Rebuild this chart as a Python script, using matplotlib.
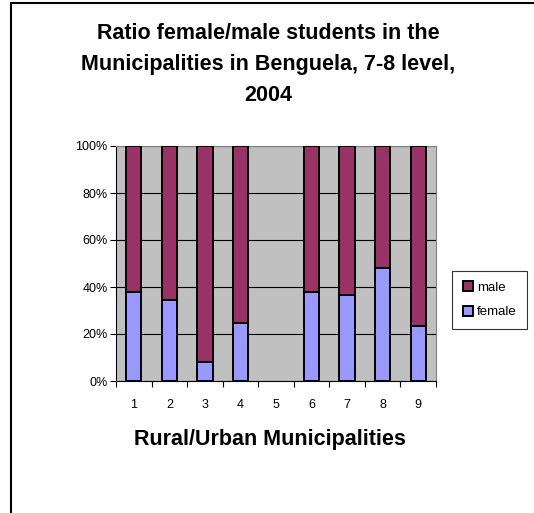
import matplotlib.pyplot as plt
from matplotlib.patches import Rectangle
from matplotlib.ticker import FixedLocator, PercentFormatter

municipalities = [1, 2, 3, 4, 5, 6, 7, 8, 9]
# municipality 5 has no data in the chart
female = [37.8, 34.4, 8.2, 24.5, float('nan'), 37.8, 36.4, 48.2, 23.5]
male = [62.2, 65.6, 91.8, 75.5, float('nan'), 62.2, 63.6, 51.8, 76.5]
title_lines = ['Ratio female/male students in the',
               'Municipalities in Benguela, 7-8 level,',
               '2004']

plt.rcParams['font.family'] = ['Liberation Sans', 'DejaVu Sans']

W, H = 534, 513
fig = plt.figure(figsize=(W / 100, H / 100), dpi=100)
ax = fig.add_axes([116 / W, 1 - 381 / H, 320 / W, 235 / H])
ax.set_facecolor('#c0c0c0')

w = 0.43
b_f = ax.bar(municipalities, female, width=w, color='#9999ff', edgecolor='black', linewidth=1.4, zorder=3)
b_m = ax.bar(municipalities, male, width=w, bottom=female, color='#993366', edgecolor='black', linewidth=1.4, zorder=3)

ax.set_xlim(0.5, 9.5)
ax.set_ylim(0, 100)
ax.set_yticks([0, 20, 40, 60, 80, 100])
ax.yaxis.set_major_formatter(PercentFormatter(decimals=0))
ax.grid(axis='y', color='black', linewidth=0.8, zorder=1)

ax.set_xticks(municipalities)
ax.xaxis.set_minor_locator(FixedLocator([i + 0.5 for i in range(0, 10)]))
ax.tick_params(axis='x', which='major', length=0, pad=13, labelsize=9)
ax.tick_params(axis='x', which='minor', length=4, direction='out', width=0.8)
ax.tick_params(axis='y', length=4, direction='out', width=0.8, labelsize=9, pad=2)

for s in ['top', 'right']:
    ax.spines[s].set_color('#808080')
ax.spines['left'].set_color('black')
ax.spines['bottom'].set_color('black')

ax.set_xlabel('Rural/Urban Municipalities', fontsize=15.5, fontweight='bold')
ax.xaxis.set_label_coords(0.48, -0.205)

for i, line in enumerate(title_lines):
    fig.text(268 / W, 1 - (39 + 31 * i) / H, line, ha='center', va='baseline',
             fontsize=15.5, fontweight='bold')

leg = ax.legend([b_m, b_f], ['male', 'female'], loc='center left', bbox_to_anchor=(1.05, 0.345),
                fontsize=9.5, frameon=True, fancybox=False, edgecolor='black',
                handlelength=0.8, handleheight=0.8, handletextpad=0.3, labelspacing=0.9,
                borderpad=0.8, borderaxespad=0)
leg.get_frame().set_linewidth(0.8)

fig.patches.append(Rectangle((11 / W, -0.1), 1.2, 1 - 3 / H + 0.1, transform=fig.transFigure,
                             fill=False, edgecolor='black', linewidth=1.5))

fig.savefig('out.png', dpi=100)
